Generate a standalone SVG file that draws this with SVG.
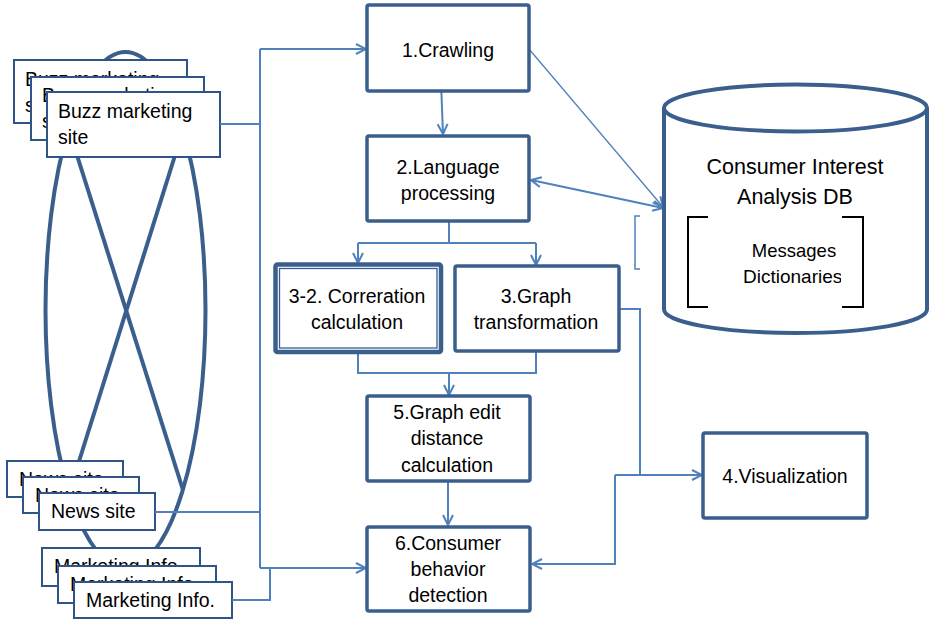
<svg xmlns="http://www.w3.org/2000/svg" width="932" height="621" viewBox="0 0 932 621">
<defs>
<style>
text{font-family:"Liberation Sans",Arial,sans-serif;font-size:19.5px;fill:#000}
.t{text-anchor:middle}
.main{fill:#fff;stroke:#3A5F8D;stroke-width:3.5}
.src{fill:#fff;stroke:#2F5588;stroke-width:2}
.ell{fill:none;stroke:#3A5F8D;stroke-width:4}
.c{fill:none;stroke:#4F81BD;stroke-width:2}
.ca{fill:none;stroke:#4F81BD;stroke-width:2;marker-end:url(#ah)}
.db{fill:#fff;stroke:#3A5F8D;stroke-width:4}
.br{fill:none;stroke:#000;stroke-width:2}
</style>
<marker id="ah" viewBox="0 0 12 12" refX="11" refY="6" markerWidth="12" markerHeight="12" markerUnits="userSpaceOnUse" orient="auto">
<path d="M1,1 L11,6 L1,11" fill="none" stroke="#4F81BD" stroke-width="2"/>
</marker>
<marker id="ahs" viewBox="0 0 12 12" refX="1" refY="6" markerWidth="12" markerHeight="12" markerUnits="userSpaceOnUse" orient="auto">
<path d="M11,1 L1,6 L11,11" fill="none" stroke="#4F81BD" stroke-width="2"/>
</marker>
<clipPath id="dclip"><rect x="700" y="260" width="141" height="40"/></clipPath>
</defs>

<g id="background-shapes">
<ellipse class="ell" cx="125.5" cy="310" rx="80" ry="258"/>
<line class="ell" x1="69" y1="130" x2="183" y2="490"/>
<line class="ell" x1="183" y1="130" x2="70" y2="490"/>
</g>

<g id="buzz-sites">
<rect class="src" x="14" y="60" width="173" height="63"/>
<text x="25" y="86">Buzz marketing</text><text x="25" y="112">site</text>
<rect class="src" x="31" y="77" width="173" height="63"/>
<text x="42" y="102">Buzz marketing</text><text x="42" y="128">site</text>
<rect class="src" x="47" y="92" width="173" height="65"/>
<text x="58" y="118">Buzz marketing</text><text x="58" y="144">site</text>
</g>

<g id="news-sites">
<rect class="src" x="7" y="461" width="116" height="36"/>
<text x="19" y="486">News site</text>
<rect class="src" x="23" y="477" width="116" height="36"/>
<text x="35" y="502">News site</text>
<rect class="src" x="39" y="493" width="116" height="37"/>
<text x="51" y="518">News site</text>
</g>

<g id="marketing-info">
<rect class="src" x="42" y="548" width="158" height="38"/>
<text x="54" y="573">Marketing Info.</text>
<rect class="src" x="58" y="566" width="158" height="37"/>
<text x="70" y="591">Marketing Info.</text>
<rect class="src" x="74" y="582" width="158" height="36"/>
<text x="86" y="607">Marketing Info.</text>
</g>

<g id="connectors">
<polyline class="c" points="220,124 260,124"/>
<polyline class="c" points="155,512 260,512"/>
<polyline class="c" points="232,600 270,600 270,568"/>
<polyline class="c" points="260,568 260,49"/>
<line class="ca" x1="260" y1="49" x2="366" y2="49"/>
<line class="ca" x1="260" y1="568" x2="366" y2="568"/>
<line class="ca" x1="441" y1="82" x2="443" y2="134"/>
<polyline class="c" points="449,221 449,243"/>
<polyline class="c" points="358,243 536,243"/>
<line class="ca" x1="358" y1="243" x2="358" y2="263"/>
<line class="ca" x1="536" y1="243" x2="536" y2="265"/>
<polyline class="c" points="358,354 358,373 536,373 536,351"/>
<line class="ca" x1="449" y1="373" x2="449" y2="395"/>
<line class="ca" x1="448" y1="481" x2="448" y2="525"/>
<polyline class="c" points="619,309 640,309 640,475"/>
<line class="ca" x1="615" y1="475" x2="702" y2="475"/>
<polyline class="ca" points="615,475 615,564 532,564"/>
<line class="ca" style="stroke-width:1.3" x1="529" y1="49" x2="663" y2="207"/>
<line class="ca" style="marker-start:url(#ahs)" x1="531" y1="180" x2="663" y2="208"/>
<polyline class="c" style="stroke-width:1.5" points="640,216 635,216 635,269 640,269"/>
</g>

<g id="crawling">
<rect class="main" x="367" y="5" width="162" height="86" rx="2"/>
<text class="t" x="448" y="57">1.Crawling</text>
</g>

<g id="language-processing">
<rect class="main" x="367" y="136" width="162" height="85" rx="2"/>
<text class="t" x="448" y="174">2.Language</text>
<text class="t" x="448" y="200">processing</text>
</g>

<g id="correlation">
<rect fill="#fff" stroke="#3A5F8D" stroke-width="4.5" x="275.5" y="264.5" width="165.5" height="87.5" rx="2"/>
<rect fill="none" stroke="#3A5F8D" stroke-width="1.3" x="279.5" y="268.5" width="157.5" height="79.5"/>
<text class="t" x="357" y="303">3-2. Correration</text>
<text class="t" x="357" y="329">calculation</text>
</g>

<g id="graph-transformation">
<rect class="main" x="455" y="266" width="164" height="85" rx="2"/>
<text class="t" x="536" y="303">3.Graph</text>
<text class="t" x="536" y="329">transformation</text>
</g>

<g id="graph-edit-distance">
<rect class="main" x="367" y="396" width="163" height="85" rx="2"/>
<text class="t" x="447" y="419">5.Graph edit</text>
<text class="t" x="447" y="445">distance</text>
<text class="t" x="447" y="472">calculation</text>
</g>

<g id="consumer-behavior">
<rect class="main" x="367" y="527" width="163" height="84" rx="2"/>
<text class="t" x="448" y="550">6.Consumer</text>
<text class="t" x="448" y="576">behavior</text>
<text class="t" x="448" y="602">detection</text>
</g>

<g id="visualization">
<rect class="main" x="703" y="433" width="164" height="85" rx="2"/>
<text class="t" x="785" y="483">4.Visualization</text>
</g>

<g id="database">
<path class="db" d="M664,108 L664,309.5 A131.5,23.5 0 0 0 927,309.5 L927,108 A131.5,23.5 0 0 0 664,108 Z"/>
<path class="db" fill="none" d="M664,108 A131.5,23.5 0 0 0 927,108"/>
<text class="t" style="font-size:21.5px" x="795" y="174">Consumer Interest</text>
<text class="t" style="font-size:21.5px" x="795" y="204">Analysis DB</text>
<polyline class="br" points="708,217 688,217 688,307 708,307"/>
<polyline class="br" points="842,217 863,217 863,307 842,307"/>
<text class="t" style="font-size:18.5px" x="794" y="257">Messages</text>
<text style="font-size:19px" x="743" y="283" clip-path="url(#dclip)">Dictionaries</text>
</g>
</svg>
